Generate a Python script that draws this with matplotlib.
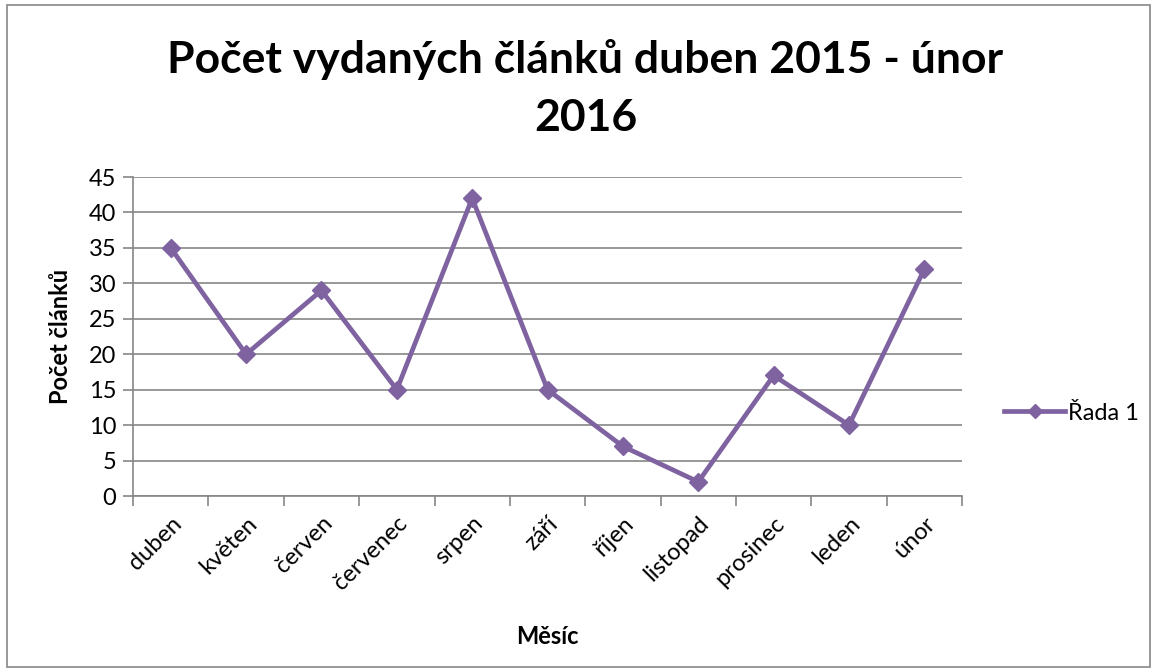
import matplotlib.pyplot as plt
from matplotlib.patches import Rectangle
import numpy as np

# Data
mesice = ['duben', 'květen', 'červen', 'červenec', 'srpen', 'září',
          'říjen', 'listopad', 'prosinec', 'leden', 'únor']
pocet = [35, 20, 29, 15, 42, 15, 7, 2, 17, 10, 32]

barva = '#7F63A1'
seda = '#868686'

plt.rcParams['font.family'] = ['Lato', 'DejaVu Sans']

fig = plt.figure(figsize=(11.57, 6.72), dpi=100)
ax = fig.add_axes([0.1150, 0.2619, 0.7165, 0.4747])

x = np.arange(len(mesice))
ax.plot(x, pocet, color=barva, linewidth=3.4, marker='D', markersize=9,
        label='Řada 1')

ax.set_xlim(-0.5, len(mesice) - 0.5)
ax.set_ylim(0, 45)
ax.set_yticks(np.arange(0, 46, 5))
ax.yaxis.grid(True, color=seda, linewidth=1.2)
ax.set_axisbelow(True)

# kategorie mezi dílky
ax.set_xticks(np.arange(-0.5, len(mesice), 1))
ax.set_xticklabels([])
ax.set_xticks(x, minor=True)
ax.set_xticklabels(mesice, minor=True, rotation=45, ha='right',
                   rotation_mode='anchor', fontsize=17)
ax.tick_params(axis='x', which='minor', length=0, pad=12)
ax.tick_params(axis='x', which='major', length=7, width=1.2, color=seda)
ax.tick_params(axis='y', length=7, width=1.2, color=seda, labelsize=17, pad=5)

for s in ['top', 'right']:
    ax.spines[s].set_visible(False)
for s in ['left', 'bottom']:
    ax.spines[s].set_color(seda)
    ax.spines[s].set_linewidth(1.2)

ax.set_xlabel('Měsíc', fontsize=17, fontweight='bold', labelpad=22)
ax.set_ylabel('Počet článků', fontsize=17, fontweight='bold', labelpad=12)

fig.text(0.506, 0.868, 'Počet vydaných článků duben 2015 - únor\n2016',
         ha='center', va='center', fontsize=32, fontweight='bold',
         linespacing=1.55)

ax.legend(loc='center left', bbox_to_anchor=(1.025, 0.26), frameon=False,
          fontsize=17, handlelength=2.6, handletextpad=0.1, markerscale=0.8)

fig.patches.append(Rectangle((0.006, 0.007), 0.988, 0.985, transform=fig.transFigure,
                             fill=False, edgecolor=seda, linewidth=1.2))

plt.savefig('out.png', dpi=100)
plt.close()
